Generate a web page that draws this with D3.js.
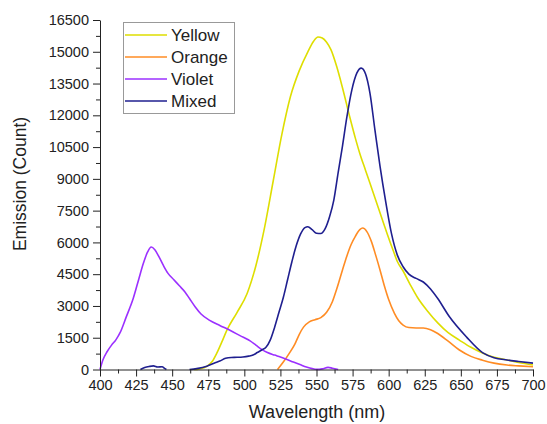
<!DOCTYPE html>
<html lang="en">
  <head>
    <meta charset="UTF-8">
    <title>Emission spectra</title>
    <style>
      body { margin: 0; background: #fff; }
      svg { font-family: "Liberation Sans", Arial, sans-serif; }
    </style>
    <script src="https://d3js.org/d3.v7.min.js"></script>
  </head>
  <body>
    <script>
      // data: [wavelength nm, count]
      var yellow = [[465,0],[469,30],[474,150],[478,400],[481,780],[485,1390],[488,1870],[495,2700],[502,3600],
        [508,4900],[514,6700],[520,8900],[526,11100],[532,12900],[538,14100],[544,15000],[548,15500],[551,15700],
        [554,15650],[557,15450],[560,15100],[564,14300],[568,13300],[573,11930],[577,10900],[580,10200],
        [584,9400],[587,8800],[591,8000],[595,7200],[599,6400],[603,5640],[606,5100],[610,4650],[615,4000],
        [620,3400],[627,2750],[634,2200],[641,1750],[649,1390],[657,1050],[665,780],[672,600],[679,500],
        [690,330],[700,210]];
      var orange = [[523,0],[527,350],[531,750],[535,1200],[538,1650],[541,2000],[545,2250],[549,2350],[553,2450],
        [557,2700],[561,3200],[564,3800],[568,4700],[571,5350],[574,5900],[577,6300],[580,6600],[582,6680],
        [585,6500],[588,6050],[591,5400],[594,4700],[597,3950],[600,3300],[604,2650],[607,2300],[610,2100],
        [614,1980],[619,1960],[624,1960],[629,1880],[634,1700],[641,1350],[649,920],[657,620],[665,440],
        [673,300],[682,210],[690,170],[700,130]];
      var violet = [[400,0],[402,450],[405,850],[408,1150],[411,1400],[414,1750],[418,2450],[423,3350],[427,4300],
        [430,5000],[433,5550],[435.5,5780],[438,5650],[441,5300],[444,4900],[447,4550],[451,4250],[455,3950],
        [459,3650],[462,3350],[466,2950],[470,2620],[476,2320],[483,2080],[490,1850],[497,1600],[504,1350],
        [508,1150],[512,950],[516,800],[521,680],[525,590],[530,460],[534,350],[539,220],[543,120],[547,40],
        [550,5],[554,30],[558,100],[561,60],[565,0]];
      var mixed = [[428,0],[431,90],[434,140],[437,170],[440,120],[443,130],[445,40],[446,0],[454,null],
        [462,0],[467,40],[474,150],[479,300],[483,400],[487,530],[491,570],[495,575],[499,590],[503,630],
        [506,680],[509,800],[512,920],[515,1050],[518,1400],[521,2000],[524,2700],[527,3400],[530,4250],
        [533,5100],[536,5850],[539,6400],[542,6700],[544,6740],[547,6600],[550,6430],[553,6420],[556,6650],
        [559,7200],[562,8000],[565,9300],[568,10550],[571,11900],[574.5,13200],[578,14000],[581,14230],
        [584,13950],[587,13060],[590.5,11300],[594,9600],[598,7900],[602,6400],[606,5400],[610,4850],
        [614,4500],[619,4300],[624,4130],[629,3800],[634,3350],[642,2500],[654,1530],[665,800],[673,560],
        [682,450],[690,380],[700,300]];

      var seriesNames = ["Yellow", "Orange", "Violet", "Mixed"];
      var seriesData = [yellow, orange, violet, mixed];
      var colors = ["#dede00", "#ff8c24", "#9b30ff", "#1f1f8f"];
      var xTicks = d3.range(400, 701, 25);
      var yTicks = d3.range(0, 16501, 1500);

      var width = 547, height = 424;
      var x = d3.scaleLinear().domain([400, 700]).range([100, 533]);
      var y = d3.scaleLinear().domain([0, 16500]).range([369.5, 20]);

      var svg = d3.select("body").append("svg")
        .attr("width", width)
        .attr("height", height);

      var line = d3.line()
        .defined(function (d) { return d[1] !== null; })
        .x(function (d) { return x(d[0]); })
        .y(function (d) { return y(d[1]); })
        .curve(d3.curveMonotoneX);

      svg.selectAll("path.series").data(seriesData).enter()
        .append("path")
        .attr("class", "series")
        .attr("d", line)
        .attr("fill", "none")
        .attr("stroke", function (d, i) { return colors[i]; })
        .attr("stroke-width", 1.6);

      // minor ticks
      svg.append("g")
        .attr("transform", "translate(0,369.5)")
        .call(d3.axisBottom(x).tickValues(d3.range(412.5, 700, 25)).tickSize(4).tickFormat(""))
        .call(function (g) { g.select(".domain").remove(); });
      svg.append("g")
        .attr("transform", "translate(100,0)")
        .call(d3.axisLeft(y).tickValues(d3.range(750, 16500, 1500)).tickSize(4).tickFormat(""))
        .call(function (g) { g.select(".domain").remove(); });

      var xAxis = svg.append("g")
        .attr("transform", "translate(0,369.5)")
        .call(d3.axisBottom(x).tickValues(xTicks).tickSize(7).tickSizeOuter(0).tickPadding(3)
          .tickFormat(d3.format("d")));
      xAxis.selectAll("text").attr("font-size", "14.5px").attr("fill", "#222");

      var yAxis = svg.append("g")
        .attr("transform", "translate(100,0)")
        .call(d3.axisLeft(y).tickValues(yTicks).tickSize(7).tickSizeOuter(0).tickPadding(4)
          .tickFormat(d3.format("d")));
      yAxis.selectAll("text").attr("font-size", "14.5px").attr("fill", "#222");

      svg.selectAll(".domain, .tick line").attr("stroke", "#222");

      svg.append("text")
        .attr("x", 317).attr("y", 418)
        .attr("text-anchor", "middle")
        .attr("font-size", "18px")
        .attr("fill", "#222")
        .text("Wavelength (nm)");

      svg.append("text")
        .attr("transform", "translate(26,184) rotate(-90)")
        .attr("text-anchor", "middle")
        .attr("font-size", "17.5px")
        .attr("fill", "#222")
        .text("Emission (Count)");

      // legend
      var legend = svg.append("g");
      legend.append("rect")
        .attr("x", 123.5).attr("y", 22.5)
        .attr("width", 111).attr("height", 91)
        .attr("fill", "#fff")
        .attr("stroke", "#999");
      var items = legend.selectAll("g.item").data(seriesNames).enter()
        .append("g")
        .attr("class", "item")
        .attr("transform", function (d, i) { return "translate(0," + (35 + i * 22) + ")"; });
      items.append("line")
        .attr("x1", 125).attr("x2", 167)
        .attr("stroke", function (d, i) { return colors[i]; })
        .attr("stroke-width", 1.6);
      items.append("text")
        .attr("x", 171).attr("dy", "0.35em")
        .attr("font-size", "17px")
        .attr("fill", "#222")
        .text(function (d) { return d; });
    </script>
  </body>
</html>
